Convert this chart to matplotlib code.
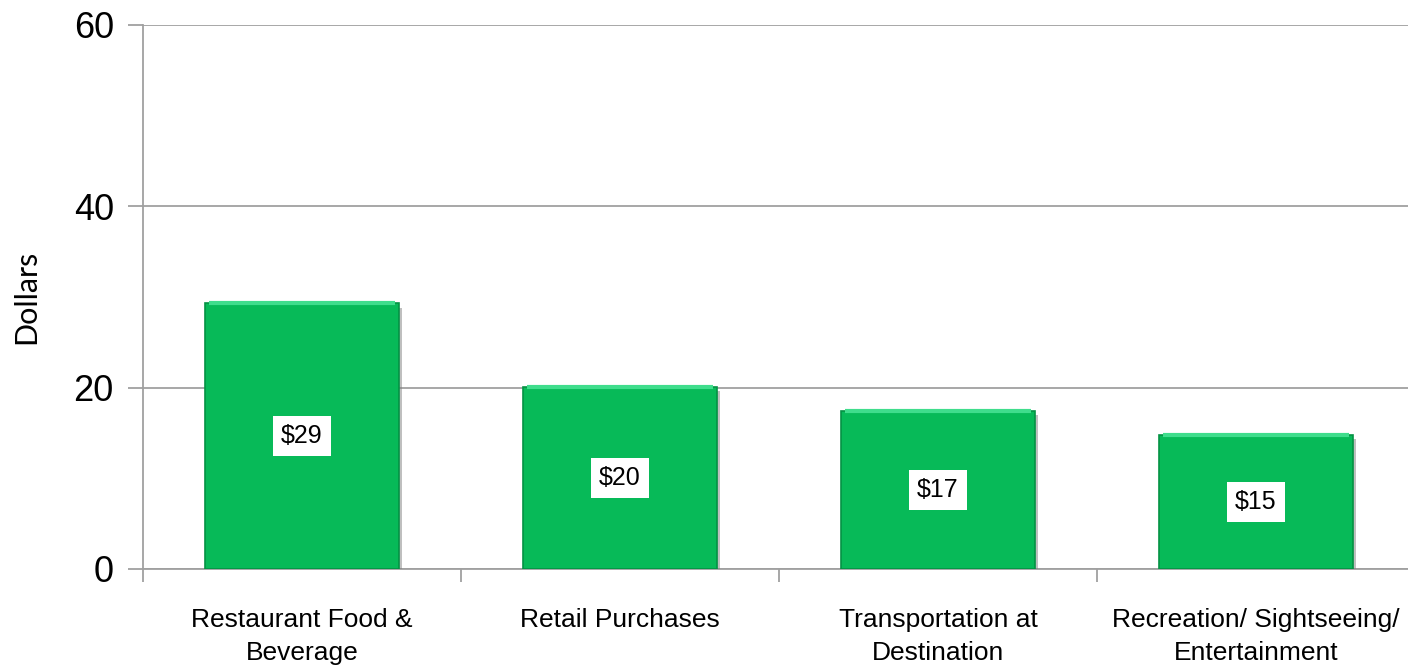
import numpy as np
import matplotlib
matplotlib.use('Agg')
import matplotlib.pyplot as plt
import matplotlib.patheffects as pe

# data
categories = ['Restaurant Food &\nBeverage', 'Retail Purchases',
              'Transportation at\nDestination', 'Recreation/ Sightseeing/\nEntertainment']
values = [29.3, 20.1, 17.4, 14.8]
value_labels = ['$29', '$20', '$17', '$15']
y_ticks = [0, 20, 40, 60]

plt.rcParams['font.family'] = ['Liberation Sans', 'DejaVu Sans']

fig = plt.figure(figsize=(14.08, 6.68), dpi=100)
ax = fig.add_axes([143 / 1408, 1 - 569 / 668, 1272 / 1408, (569 - 25) / 668])

x = np.arange(len(categories))
width = 0.61
grey = '#A0A0A0'

ax.set_ylim(0, 60)
ax.set_xlim(-0.5, len(categories) - 0.5)
ax.set_yticks(y_ticks)
ax.yaxis.grid(True, color=grey, linewidth=1.3)
ax.set_axisbelow(True)

bars = ax.bar(x, values, width, color='#07BA58', edgecolor='#049244', linewidth=1.2, zorder=3)
for b in bars:
    b.set_path_effects([pe.SimplePatchShadow(offset=(2, -3), shadow_rgbFace='#808080', alpha=0.5),
                        pe.Normal()])
# lighter bevel on top edge
ax.hlines(values, x - width / 2 + 0.012, x + width / 2 - 0.012, colors='#3FDD8C', linewidth=3, zorder=4)

for xi, v, lab in zip(x, values, value_labels):
    ax.text(xi, v / 2, lab, ha='center', va='center', fontsize=18, color='black', zorder=5,
            bbox=dict(boxstyle='square,pad=0.32', facecolor='white', edgecolor='none'))

ax.set_xticks(x)
ax.set_xticklabels(categories, fontsize=19, linespacing=1.5)
ax.set_xticks(np.arange(len(categories) + 1) - 0.5, minor=True)
ax.tick_params(axis='x', which='major', length=0, pad=28)
ax.tick_params(axis='x', which='minor', length=9, width=1.3, color=grey, direction='out')
ax.tick_params(axis='y', length=11, width=1.3, color=grey, labelsize=26, pad=10)

for s in ['top', 'right']:
    ax.spines[s].set_visible(False)
for s in ['left', 'bottom']:
    ax.spines[s].set_color(grey)
    ax.spines[s].set_linewidth(1.3)

ax.set_ylabel('Dollars', fontsize=22, family=['Lato', 'DejaVu Sans'], labelpad=24)

fig.savefig('out.png', dpi=100)
